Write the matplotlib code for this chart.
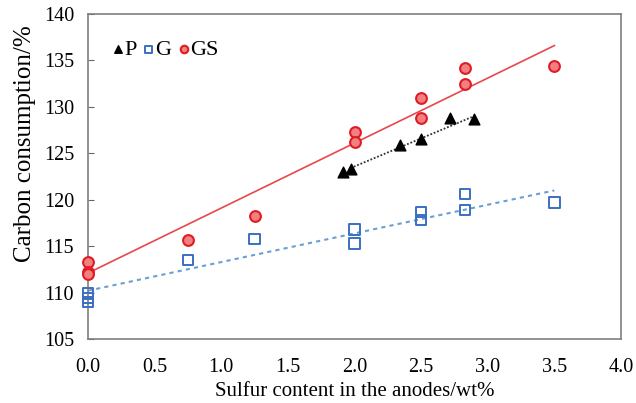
import numpy as np
import matplotlib
matplotlib.use("Agg")
import matplotlib.pyplot as plt

plt.rcParams['font.family'] = ['Liberation Serif', 'DejaVu Serif']

# dados
p_x = [1.91, 1.97, 2.34, 2.50, 2.72, 2.90]
p_y = [123.0, 123.3, 125.9, 126.5, 128.8, 128.7]

g_x = [0, 0, 0, 0.75, 1.25, 2.0, 2.0, 2.5, 2.5, 2.83, 2.83, 3.5]
g_y = [109.9, 109.45, 109.0, 113.5, 115.8, 116.8, 115.3, 118.7, 117.8, 120.6, 118.9, 119.7]

gs_x = [0, 0, 0, 0.75, 1.25, 2.0, 2.0, 2.5, 2.5, 2.83, 2.83, 3.5]
gs_y = [113.3, 112.2, 111.95, 115.7, 118.2, 127.3, 126.2, 131.0, 128.8, 134.2, 132.5, 134.4]

# linhas de tendencia (x inicial, x final) e (y inicial, y final)
p_trend_x = [1.97, 2.88]
p_trend_y = [123.4, 128.9]
g_trend_x = [0, 3.5]
g_trend_y = [110.2, 121.0]
gs_trend_x = [0, 3.5]
gs_trend_y = [112.1, 136.6]

fig = plt.figure(figsize=(6.36, 4.03), dpi=100)
ax = fig.add_axes([88 / 636, 1 - 339 / 403, (621 - 88) / 636, (339 - 14) / 403])

ax.plot(gs_trend_x, gs_trend_y, color='#e8474c', lw=1.2, zorder=1)
ax.plot(g_trend_x, g_trend_y, color='#6a9fd4', lw=1.5, ls=(0, (2, 2)), zorder=1)
ax.plot(p_trend_x, p_trend_y, color='#333333', lw=1.3, ls=(0, (1, 1)), zorder=1)

ax.scatter(p_x, p_y, marker='^', s=60, color='black', zorder=3, label='P', clip_on=False)
ax.scatter(g_x, g_y, marker='s', s=55, facecolor='none', edgecolor='#3b6fc2',
           linewidth=1.4, zorder=3, label='G', clip_on=False)
ax.scatter(gs_x, gs_y, marker='o', s=60, facecolor='#f28080', edgecolor='#e01b24',
           linewidth=1.5, zorder=4, label='GS', clip_on=False)

ax.set_xlim(0, 4.0)
ax.set_ylim(105, 140)
ax.set_xticks(np.arange(0, 4.01, 0.5))
ax.set_xticklabels([f'{v:.1f}' for v in np.arange(0, 4.01, 0.5)])
ax.set_yticks(np.arange(105, 141, 5))

ax.tick_params(axis='y', direction='in', length=4, color='#666666', labelsize=14.5, pad=10)
ax.tick_params(axis='x', length=0, labelsize=14.5, pad=14)
for s in ax.spines.values():
    s.set_color('#7f7f7f')
    s.set_linewidth(1.2)

ax.set_xlabel('Sulfur content in the anodes/wt%', fontsize=15, labelpad=3)
ax.set_ylabel('Carbon consumption/%', fontsize=18, labelpad=8)
ax.yaxis.set_label_coords(-0.097, 0.60)

ax.legend(loc='center left', ncol=3, frameon=False, fontsize=16, markerscale=0.7,
          handletextpad=0.05, columnspacing=0.3, handlelength=0.5,
          borderpad=0, borderaxespad=0, bbox_to_anchor=(0.045, 0.89))

fig.savefig('out.png', dpi=100)
